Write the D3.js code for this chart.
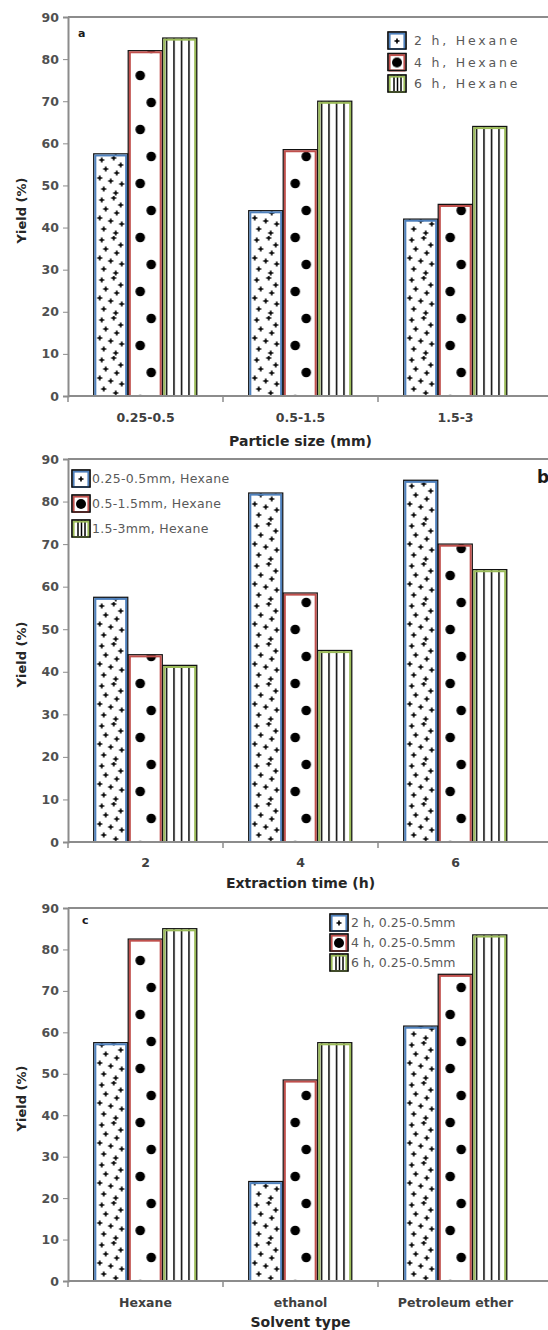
<!DOCTYPE html>
<html><head><meta charset="utf-8">
<script src="https://cdn.jsdelivr.net/npm/d3@7"></script>
<style>body{margin:0;background:#fff}svg{display:block}</style>
</head><body>
<svg id="chart" width="548" height="1330"></svg>
<script>
const yTicks = [0,10,20,30,40,50,60,70,80,90];

const catsA = ["0.25-0.5","0.5-1.5","1.5-3"];
const seriesA = ["2 h, Hexane","4 h, Hexane","6 h, Hexane"];
const valsA2h = [57.5,44,42];
const valsA4h = [82,58.5,45.5];
const valsA6h = [85,70,64];

const catsB = ["2","4","6"];
const seriesB = ["0.25-0.5mm, Hexane","0.5-1.5mm, Hexane","1.5-3mm, Hexane"];
const valsB025 = [57.5,82,85];
const valsB05 = [44,58.5,70];
const valsB15 = [41.5,45,64];

const catsC = ["Hexane","ethanol","Petroleum ether"];
const seriesC = ["2 h, 0.25-0.5mm","4 h, 0.25-0.5mm","6 h, 0.25-0.5mm"];
const valsC2h = [57.5,24,61.5];
const valsC4h = [82.5,48.5,74];
const valsC6h = [85,57.5,83.5];

const colors = ["#4f81bd","#c0504d","#9bbb59"];
const fills = ["plus","dot","vline"];

const panels = [
  {letter:"a", cats:catsA, series:seriesA, vals:[valsA2h,valsA4h,valsA6h], top:17, bottom:396,
   xTitle:"Particle size (mm)", catY:422, titleY:446,
   letterPos:[78,37,11], legend:{x:388,y:32,dy:21.5,tx:414,ls:2.8}},
  {letter:"b", cats:catsB, series:seriesB, vals:[valsB025,valsB05,valsB15], top:459, bottom:842,
   xTitle:"Extraction time (h)", catY:867, titleY:888,
   letterPos:[537,483,17], legend:{x:72,y:470,dy:25,tx:92,ls:0.3}},
  {letter:"c", cats:catsC, series:seriesC, vals:[valsC2h,valsC4h,valsC6h], top:908, bottom:1281,
   xTitle:"Solvent type", catY:1307, titleY:1327,
   letterPos:[82,924,11], legend:{x:330,y:914,dy:20,tx:351,ls:0}}
];

const svg = d3.select("#chart");
const defs = svg.append("defs");
const left = 68, right = 533;

let pid = 0;
function makePattern(type, x0, y0) {
  const id = "p" + (pid++);
  if (type === "plus") {
    const p = defs.append("pattern").attr("id", id).attr("patternUnits","userSpaceOnUse")
      .attr("x", x0).attr("y", y0).attr("width", 34).attr("height", 40);
    const pts = [[8,4],[20,2],[27,9],[12,13],[23,17],[6,22],[17,25],[28,28],[10,33],[22,37]];
    pts.forEach(([px,py]) => {
      p.append("path").attr("d", `M${px-2.5},${py}H${px+2.5}M${px},${py-2.5}V${py+2.5}`)
        .attr("stroke","#000").attr("stroke-width",1.6);
    });
  } else if (type === "dot") {
    const p = defs.append("pattern").attr("id", id).attr("patternUnits","userSpaceOnUse")
      .attr("x", x0).attr("y", y0 - 68).attr("width", 34).attr("height", 54);
    p.append("circle").attr("cx", 12).attr("cy", 17.5).attr("r", 4.8).attr("fill","#000");
    p.append("circle").attr("cx", 23).attr("cy", 44.5).attr("r", 4.8).attr("fill","#000");
  } else {
    const p = defs.append("pattern").attr("id", id).attr("patternUnits","userSpaceOnUse")
      .attr("x", x0 + 3).attr("y", 0).attr("width", 7.5).attr("height", 10);
    p.append("line").attr("x1",0.75).attr("x2",0.75).attr("y1",0).attr("y2",10)
      .attr("stroke","#000").attr("stroke-width",1.5);
  }
  return "url(#" + id + ")";
}

function drawBox(g, x, y, w, h, color, fill) {
  g.append("rect").attr("x", x).attr("y", y).attr("width", w).attr("height", h)
    .attr("fill", fill).attr("stroke", "#111").attr("stroke-width", 1.3);
  g.append("rect").attr("x", x + 1.6).attr("y", y + 1.6).attr("width", Math.max(0, w - 3.2)).attr("height", Math.max(0, h - 1.6))
    .attr("fill", "none").attr("stroke", color).attr("stroke-width", 2);
}

panels.forEach(P => {
  const g = svg.append("g");
  const y = d3.scaleLinear().domain([0, 90]).range([P.bottom, P.top]);
  const x0 = d3.scaleBand().domain(P.cats).range([left, right]).paddingInner(0.332).paddingOuter(0.166);
  const x1 = d3.scaleBand().domain(P.series).range([0, x0.bandwidth()]);

  g.append("line").attr("x1", left).attr("x2", 548).attr("y1", P.top).attr("y2", P.top)
    .attr("stroke", "#8c8c8c").attr("stroke-width", 2);

  P.series.forEach((s, si) => {
    P.cats.forEach((c, ci) => {
      const v = P.vals[si][ci];
      const bx = x0(c) + x1(s);
      const bw = x1.bandwidth() - 0.5;
      const by = y(v);
      const fill = makePattern(fills[si], bx, P.bottom);
      drawBox(g, bx, by, bw, P.bottom - by, colors[si], fill);
    });
  });

  const yAxis = d3.axisLeft(y).tickValues(yTicks).tickSize(5).tickPadding(4);
  const ya = g.append("g").attr("transform", `translate(${left},0)`).call(yAxis);
  ya.select(".domain").attr("stroke", "#8c8c8c").attr("stroke-width", 2);
  ya.selectAll(".tick line").attr("stroke", "#8c8c8c");
  ya.selectAll(".tick text").attr("font-family", "DejaVu Sans, sans-serif").attr("font-size", 12.5)
    .attr("font-weight", "bold").attr("fill", "#505050");

  const xa = g.append("g").attr("transform", `translate(0,${P.bottom})`);
  xa.append("line").attr("x1", left).attr("x2", 548).attr("y1", 0).attr("y2", 0)
    .attr("stroke", "#8c8c8c").attr("stroke-width", 2);
  const bounds = [left].concat(P.cats.slice(1).map(c => x0(c) - x0.step() * x0.paddingInner() / 2));
  xa.selectAll("line.tk").data(bounds).join("line").attr("class", "tk")
    .attr("x1", d => d).attr("x2", d => d).attr("y1", 0).attr("y2", 6)
    .attr("stroke", "#8c8c8c").attr("stroke-width", 1.5);
  g.selectAll("text.cat").data(P.cats).join("text").attr("class", "cat")
    .attr("x", c => x0(c) + x0.bandwidth() / 2).attr("y", P.catY)
    .attr("text-anchor", "middle").attr("font-family", "DejaVu Sans, sans-serif")
    .attr("font-size", 12.5).attr("font-weight", "bold").attr("fill", "#404040").text(c => c);

  g.append("text").attr("x", (left + right) / 2).attr("y", P.titleY).attr("text-anchor", "middle")
    .attr("font-family", "DejaVu Sans, sans-serif").attr("font-size", 14).attr("font-weight", "bold")
    .attr("fill", "#262626").text(P.xTitle);

  g.append("text").attr("transform", `translate(26,${(P.top + P.bottom) / 2 + 4}) rotate(-90)`)
    .attr("text-anchor", "middle").attr("font-family", "DejaVu Sans, sans-serif").attr("font-size", 13)
    .attr("font-weight", "bold").attr("fill", "#262626").text("Yield (%)");

  g.append("text").attr("x", P.letterPos[0]).attr("y", P.letterPos[1]).attr("font-family", "DejaVu Sans, sans-serif")
    .attr("font-size", P.letterPos[2]).attr("font-weight", "bold").attr("fill", "#1a1a1a").text(P.letter);

  const L = P.legend;
  P.series.forEach((s, si) => {
    const ly = L.y + si * L.dy;
    const lg = g.append("g");
    const fillId = "lg" + (pid++);
    const pat = defs.append("pattern").attr("id", fillId).attr("patternUnits", "userSpaceOnUse")
      .attr("x", L.x).attr("y", ly).attr("width", 18).attr("height", 18);
    if (fills[si] === "plus") {
      pat.append("path").attr("d", "M6.5,9H11.5M9,6.5V11.5").attr("stroke", "#000").attr("stroke-width", 1.6);
    } else if (fills[si] === "dot") {
      pat.append("circle").attr("cx", 9).attr("cy", 9).attr("r", 5).attr("fill", "#000");
    } else {
      [6, 9.5, 13].forEach(lx => pat.append("line").attr("x1", lx).attr("x2", lx).attr("y1", 0).attr("y2", 18)
        .attr("stroke", "#000").attr("stroke-width", 1.5));
    }
    drawBox(lg, L.x, ly, 18, 17, colors[si], "url(#" + fillId + ")");
    lg.append("rect").attr("x", L.x).attr("y", ly).attr("width", 18).attr("height", 17)
      .attr("fill", "none").attr("stroke", "#111").attr("stroke-width", 1.3);
    lg.append("text").attr("x", L.tx).attr("y", ly + 13).attr("font-family", "DejaVu Sans, sans-serif")
      .attr("font-size", 12.5).attr("letter-spacing", L.ls).attr("fill", "#595959").text(s);
  });
});
</script>
</body></html>
